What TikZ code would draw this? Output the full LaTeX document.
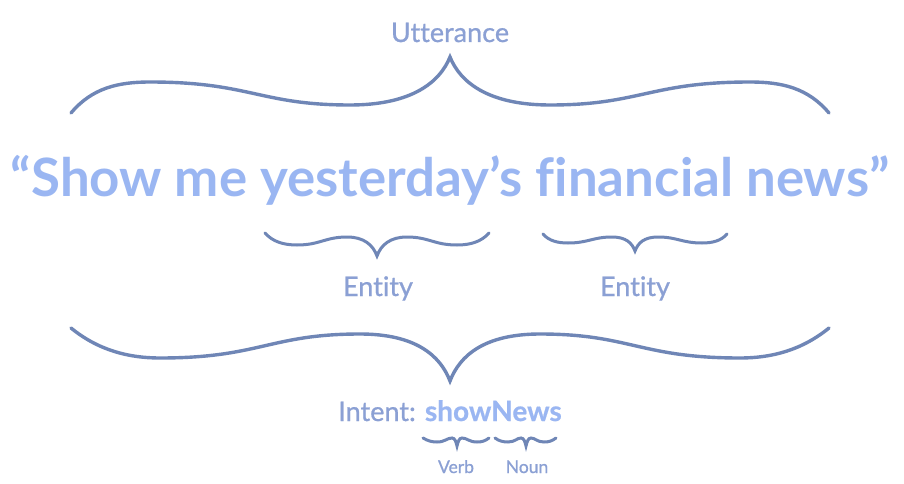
\documentclass[tikz,border=0pt]{standalone}
\usepackage{fontspec}
\setmainfont{Lato}[Ligatures=NoCommon]
\newfontfamily\medfont{Lato}[Ligatures=NoCommon, FakeBold=0.8]
\newfontfamily\heavyfont{Lato}[Ligatures=NoCommon, FakeBold=0.6]
\usetikzlibrary{calc}
\definecolor{bracec}{HTML}{6F86B6}
\definecolor{labelc}{HTML}{8BA0D4}
\definecolor{mainc}{HTML}{9AB6F2}
\tikzset{
  bracepath/.style={draw=bracec, line width=3.4pt, line cap=round, line join=miter},
  smallbrace/.style={draw=bracec, line width=3pt, line cap=round},
  lbl/.style={text=labelc, font=\medfont\fontsize{27}{30}\selectfont, inner sep=0pt, anchor=base},
  smalllbl/.style={text=labelc, font=\medfont\fontsize{17.5}{20}\selectfont, inner sep=0pt, anchor=base},
}
\begin{document}
\begin{tikzpicture}[x=1pt,y=-1pt]
\useasboundingbox (0,0) rectangle (904,484);
\fill[white] (0,0) rectangle (904,484);

% labels
\node[lbl] (utt) at (450,42) {Utterance};
\node[text=mainc, inner sep=0pt, anchor=base] (sent) at (450,196)
  {\resizebox{878pt}{!}{\bfseries “Show me yesterday’s financial news”}};
\node[lbl] (ent1) at (378,296) {Entity};
\node[lbl] (ent2) at (635,296) {Entity};
\node[lbl] (intent) at (450,421) {Intent: \textcolor{mainc}{\heavyfont\bfseries\fontsize{28}{30}\selectfont showNews}};
\node[smalllbl] (verb) at (456,473) {Verb};
\node[smalllbl] (noun) at (527,473) {Noun};

% top brace (Utterance)
\draw[bracepath] (71,113) .. controls (92,88) and (118,82) .. (150,82)
  .. controls (250,82) and (260,105) .. (350,105)
  .. controls (412,105) and (440,82) .. (450,57)
  .. controls (460,82) and (488,105) .. (550,105)
  .. controls (640,105) and (650,82) .. (750,82)
  .. controls (782,82) and (808,88) .. (829,113);

% bottom brace (Intent)
\draw[bracepath] (71,328) .. controls (98,350) and (128,358) .. (160,358)
  .. controls (260,358) and (270,334) .. (360,334)
  .. controls (415,334) and (440,355) .. (450,381)
  .. controls (460,355) and (485,334) .. (540,334)
  .. controls (630,334) and (640,358) .. (740,358)
  .. controls (772,358) and (802,350) .. (829,328);

% entity brace 1
\draw[bracepath, line width=3pt] (265,233) .. controls (273,242) and (284,245) .. (297,245)
  .. controls (320,245) and (325,237) .. (347,237)
  .. controls (364,237) and (373,245) .. (377,256)
  .. controls (381,245) and (390,237) .. (407,237)
  .. controls (429,237) and (434,245) .. (457,245)
  .. controls (470,245) and (481,242) .. (489,233);

% entity brace 2
\draw[bracepath, line width=3pt] (543,234) .. controls (549,241) and (558,243) .. (568,243)
  .. controls (588,243) and (593,237) .. (612,237)
  .. controls (626,237) and (632,243) .. (635,251)
  .. controls (638,243) and (644,237) .. (658,237)
  .. controls (677,237) and (682,243) .. (702,243)
  .. controls (712,243) and (721,241) .. (727,234);

% small braces
\draw[smallbrace] (423,438) .. controls (428,441) and (432,442) .. (437,442)
  .. controls (445,442) and (447,438) .. (452,438)
  .. controls (455,438) and (456,442) .. (457,446)
  .. controls (458,442) and (459,438) .. (462,438)
  .. controls (467,438) and (469,442) .. (477,442)
  .. controls (482,442) and (485,441) .. (489,438);
\draw[smallbrace] (495,438) .. controls (499,441) and (503,442) .. (508,442)
  .. controls (515,442) and (517,438) .. (521,438)
  .. controls (524,438) and (525,442) .. (526,446)
  .. controls (527,442) and (528,438) .. (531,438)
  .. controls (535,438) and (537,442) .. (544,442)
  .. controls (549,442) and (552,441) .. (556,438);
\end{tikzpicture}
\end{document}
